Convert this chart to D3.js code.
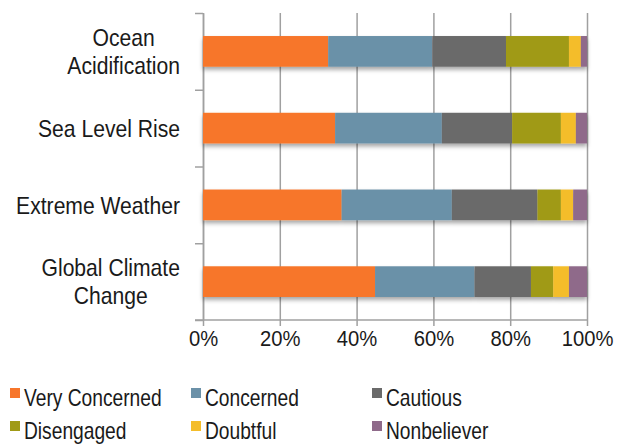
<!DOCTYPE html>
<html>
<head>
<meta charset="utf-8">
<script src="https://cdn.jsdelivr.net/npm/d3@7"></script>
<style>
  body { margin: 0; background: #fff; }
  svg text { font-family: "Liberation Sans", Arial, sans-serif; fill: #1a1a1a; }
</style>
</head>
<body>
<svg width="618" height="445"></svg>
<script>
// categories, top to bottom
var topics = ["Ocean Acidification", "Sea Level Rise", "Extreme Weather", "Global Climate Change"];
var topicLines = [["Ocean", "Acidification"], ["Sea Level Rise"], ["Extreme Weather"], ["Global Climate", "Change"]];
var groups = ["Very Concerned", "Concerned", "Cautious", "Disengaged", "Doubtful", "Nonbeliever"];
var colors = ["#f7762b", "#6b91a8", "#6a6a6a", "#a09a16", "#f4bd2a", "#8f6a8a"];

// percent per group, same order as topics
var veryConcerned = [32.6, 34.4, 36.1, 44.8];
var concerned     = [27.1, 27.8, 28.7, 25.9];
var cautious      = [19.2, 18.3, 22.3, 14.7];
var disengaged    = [16.4, 12.7, 6.1, 5.8];
var doubtful      = [3.1, 3.9, 3.2, 4.1];
var nonbeliever   = [1.6, 2.9, 3.6, 4.7];
var xTicks = [0, 20, 40, 60, 80, 100];

var series = [veryConcerned, concerned, cautious, disengaged, doubtful, nonbeliever];
var rows = topics.map(function(t, i) {
  var r = { topic: t };
  groups.forEach(function(g, j) { r[g] = series[j][i]; });
  return r;
});

// no condensed font available, so squeeze text horizontally
var squeeze = 0.88;

var svg = d3.select("svg");
var x = d3.scaleLinear().domain([0, 100]).range([203, 587]);
var y = d3.scaleBand().domain(topics).range([13, 320]).paddingInner(0.6).paddingOuter(0.3);
var color = d3.scaleOrdinal().domain(groups).range(colors);

var defs = svg.append("defs");
defs.append("filter").attr("id", "shadow").attr("x", "-5%").attr("y", "-20%").attr("width", "110%").attr("height", "160%")
  .append("feDropShadow").attr("dx", 0).attr("dy", 3).attr("stdDeviation", 2)
  .attr("flood-color", "#000").attr("flood-opacity", 0.35);

// vertical grid + ticks below
var xAxis = svg.append("g").attr("transform", "translate(0,13)")
  .call(d3.axisBottom(x).tickValues(xTicks).tickSize(313).tickPadding(4)
    .tickFormat(function(d) { return d + "%"; }));
xAxis.select(".domain").remove();
xAxis.selectAll("line").attr("stroke", "#a0a0a0").attr("stroke-width", 1.5);
xAxis.selectAll("text").style("font-size", "22px")
  .attr("transform", "scale(0.92,1)");

// y axis with ticks at band boundaries
var yb = d3.scaleLinear().domain([0, topics.length]).range([13, 320]);
var yAxis = svg.append("g").attr("transform", "translate(203,0)")
  .call(d3.axisLeft(yb).tickValues(d3.range(topics.length + 1)).tickSize(8).tickSizeOuter(0).tickFormat(""));
yAxis.selectAll("line, path").attr("stroke", "#a0a0a0").attr("stroke-width", 1.5);

// baseline
svg.append("line").attr("x1", 195).attr("x2", x(100)).attr("y1", 320).attr("y2", 320)
  .attr("stroke", "#a0a0a0").attr("stroke-width", 1.5);

var stack = d3.stack().keys(groups)(rows);

var barRows = svg.append("g").selectAll("g").data(topics).enter().append("g")
  .attr("filter", "url(#shadow)");
barRows.each(function(t, i) {
  d3.select(this).selectAll("rect").data(stack).enter().append("rect")
    .attr("x", function(s) { return x(s[i][0]); })
    .attr("width", function(s) { return x(s[i][1]) - x(s[i][0]); })
    .attr("y", y(t))
    .attr("height", y.bandwidth())
    .attr("fill", function(s) { return color(s.key); });
});

// category labels, centred lines, right edge at x=180
topics.forEach(function(t, i) {
  var lines = topicLines[i];
  var g = svg.append("g");
  var texts = g.selectAll("text").data(lines).enter().append("text")
    .style("font-size", "24px")
    .attr("text-anchor", "middle")
    .attr("dy", "0.36em")
    .text(function(d) { return d; });
  var maxW = d3.max(texts.nodes(), function(n) { return n.getComputedTextLength(); }) * squeeze;
  var cy = y(t) + y.bandwidth() / 2;
  var lh = 28;
  texts.attr("transform", function(d, k) {
    return "translate(" + (180 - maxW / 2) + "," + (cy + (k - (lines.length - 1) / 2) * lh) + ") scale(" + squeeze + ",1)";
  });
});

// legend
var legend = svg.append("g").selectAll("g").data(groups).enter().append("g")
  .attr("transform", function(d, i) { return "translate(" + [10, 191, 372][i % 3] + "," + (388 + Math.floor(i / 3) * 33) + ")"; });
legend.append("rect").attr("width", 10).attr("height", 10).attr("fill", function(d) { return color(d); });
legend.append("text").attr("transform", "translate(14,18) scale(0.8,1)")
  .style("font-size", "24px").text(function(d) { return d; });
</script>
</body>
</html>
